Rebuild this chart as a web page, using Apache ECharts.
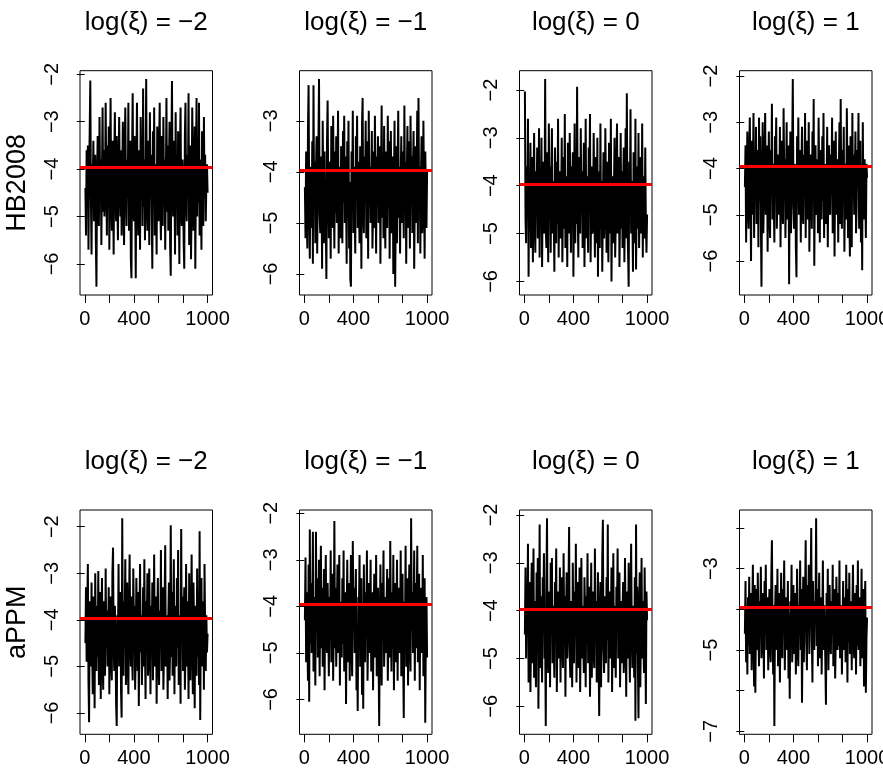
<!DOCTYPE html>
<html>
<head>
<meta charset="utf-8">
<script src="https://cdn.jsdelivr.net/npm/echarts@6/dist/echarts.min.js"></script>
<style>
html,body{margin:0;padding:0;background:#fff;}
#chart{width:883px;height:771px;}
</style>
</head>
<body>
<div id="chart"></div>
<script>
// ---------------- data ----------------
const ITER = 1000;          // MCMC iterations (x axis 1..1000)
const STEP = 5;             // thinning of the traced values
const trueValue = -3.96;    // red reference line
const colTitles = ["log(\u03BE) = \u22122", "log(\u03BE) = \u22121", "log(\u03BE) = 0", "log(\u03BE) = 1"];
const rowLabels = ["HB2008", "aPPM"];
const xTicks = [0, 200, 400, 600, 800, 1000];
const xLabels = [0, 400, 1000];
const yLabels = [
  [-6, -5, -4, -3, -2], [-6, -5, -4, -3], [-6, -5, -4, -3, -2], [-6, -5, -4, -3, -2],
  [-6, -5, -4, -3, -2], [-6, -5, -4, -3, -2], [-6, -5, -4, -3, -2], [-7, -5, -3]
];

const hb_m2 = [
-4.4,-5.4,-3.6,-4.8,-3.5,-5.7,-4.1,-3.2,-2.13,-4.6,-5.8,-3.9,-4.3,-3.4,-5.1,-4.0,-3.7,-5.5,-6.48,-4.2,
-3.3,-4.7,-5.2,-2.9,-4.5,-3.8,-5.6,-4.1,-2.7,-4.9,-3.6,-5.0,-4.4,-2.6,-4.2,-5.4,-3.5,-4.8,-3.1,-5.7,
-4.0,-2.5,-4.6,-5.3,-3.4,-4.1,-5.8,-3.7,-2.8,-4.5,-5.1,-3.3,-4.7,-5.5,-3.9,-2.9,-4.3,-5.0,-3.6,-5.4,
-4.2,-3.0,-4.9,-5.6,-3.5,-2.7,-4.4,-5.2,-3.8,-4.6,-2.6,-5.3,-4.0,-3.4,-5.9,-6.3,-3.7,-2.4,-4.8,-5.1,
-3.3,-4.5,-6.3,-3.9,-2.6,-4.7,-5.4,-3.6,-4.2,-5.7,-2.9,-4.1,-3.5,-5.2,-2.3,-4.8,-3.8,-5.5,-4.3,-2.1,
-4.6,-5.3,-3.4,-4.0,-5.6,-2.8,-4.4,-3.7,-5.0,-6.1,-3.2,-4.7,-2.7,-5.4,-3.9,-4.5,-5.8,-3.1,-4.2,-5.1,
-3.6,-2.6,-4.8,-5.5,-3.3,-4.1,-5.2,-2.9,-4.6,-3.8,-5.7,-4.3,-2.5,-4.9,-3.5,-5.3,-4.0,-3.0,-5.6,-6.25,
-3.7,-2.14,-4.5,-5.0,-3.4,-4.2,-5.8,-2.8,-4.7,-3.9,-5.4,-3.2,-4.4,-6.0,-3.6,-2.7,-4.9,-5.2,-3.8,-4.1,
-5.5,-6.1,-3.3,-2.6,-4.6,-5.1,-3.7,-4.3,-2.4,-5.6,-4.0,-3.5,-5.9,-4.8,-2.7,-3.9,-5.3,-4.5,-3.1,-6.1,
-4.2,-2.5,-5.0,-3.6,-4.7,-2.6,-5.4,-3.8,-4.4,-5.7,-3.2,-4.1,-5.2,-2.9,-4.6,-3.7,-5.1,-4.3,-3.9,-4.5
];
const hb_m1 = [
-4.3,-5.3,-3.6,-4.9,-5.5,-3.2,-2.3,-4.6,-5.7,-3.9,-4.2,-5.1,-3.4,-5.8,-2.3,-4.7,-3.8,-5.4,-4.0,-3.3,
-5.6,-4.4,-3.5,-2.18,-4.8,-5.2,-3.7,-4.1,-5.9,-3.0,-4.5,-5.4,-3.6,-4.9,-5.0,-6.1,-3.4,-2.6,-4.3,-5.3,
-3.8,-4.6,-5.7,-3.1,-4.0,-5.1,-2.9,-4.4,-5.5,-3.6,-4.8,-3.3,-5.0,-4.2,-2.8,-5.6,-3.9,-4.7,-5.3,-3.5,
-4.1,-5.4,-3.2,-4.6,-2.9,-5.0,-3.7,-4.4,-5.8,-3.4,-4.9,-3.0,-5.5,-4.2,-6.1,-6.25,-3.6,-4.5,-2.8,-5.2,
-3.9,-4.7,-5.6,-3.3,-4.3,-2.9,-5.1,-3.8,-4.6,-5.4,-3.5,-4.0,-5.9,-3.1,-2.55,-4.8,-5.2,-3.7,-4.4,-3.0,
-5.3,-4.1,-3.4,-5.7,-2.8,-4.6,-3.9,-5.0,-4.3,-3.2,-5.5,-4.8,-3.6,-5.1,-2.9,-4.2,-5.6,-3.7,-4.5,-3.3,
-5.0,-4.4,-3.5,-5.8,-4.0,-2.7,-4.9,-3.8,-5.3,-3.1,-4.6,-5.5,-3.6,-4.2,-5.1,-2.9,-4.7,-3.4,-5.7,-4.1,
-3.2,-5.2,-4.5,-3.7,-6.0,-4.3,-3.0,-6.25,-4.8,-3.5,-5.4,-4.0,-2.8,-4.9,-3.9,-5.6,-4.2,-3.3,-5.0,-4.6,
-3.6,-5.3,-2.7,-4.4,-3.8,-5.8,-4.1,-3.1,-5.1,-4.7,-3.4,-5.5,-2.9,-4.3,-3.7,-5.2,-4.0,-3.2,-5.9,-4.5,
-3.5,-5.0,-4.2,-2.8,-5.4,-2.55,-4.6,-3.9,-5.6,-4.1,-3.3,-5.2,-4.8,-3.0,-4.4,-5.7,-3.6,-4.3,-5.1,-4.0
];
const hb_0 = [
-2.03,-4.7,-5.2,-3.6,-4.4,-2.6,-5.9,-3.9,-4.9,-3.1,-5.3,-4.2,-3.4,-5.6,-4.0,-2.9,-4.8,-5.4,-3.7,-4.5,
-3.2,-5.1,-4.3,-2.8,-5.5,-3.8,-4.6,-3.0,-5.7,-4.1,-3.5,-5.0,-4.4,-1.77,-4.9,-5.3,-3.3,-4.7,-5.6,-2.7,
-4.2,-3.6,-5.4,-4.0,-2.8,-5.0,-3.9,-4.6,-5.8,-3.2,-4.3,-5.2,-3.5,-4.8,-2.6,-5.5,-4.1,-3.7,-5.1,-4.4,
-3.0,-5.6,-4.5,-3.4,-4.9,-2.5,-5.3,-3.8,-4.2,-5.7,-3.1,-4.7,-5.0,-2.9,-4.0,-5.4,-3.6,-4.6,-3.3,-5.9,
-4.3,-2.7,-5.2,-3.9,-4.8,-1.93,-4.5,-5.5,-3.4,-4.1,-5.0,-2.8,-4.6,-3.7,-5.3,-4.2,-3.1,-5.7,-4.4,-2.6,
-5.1,-3.8,-4.7,-5.4,-3.2,-4.0,-2.5,-5.6,-4.3,-3.6,-5.0,-4.8,-2.9,-4.1,-5.5,-3.4,-4.6,-5.2,-3.0,-5.9,
-4.2,-3.7,-5.3,-2.7,-4.9,-3.9,-5.8,-4.4,-3.3,-5.1,-4.6,-2.8,-4.0,-5.4,-3.5,-4.7,-5.6,-3.1,-4.3,-5.0,
-2.6,-6.0,-4.5,-3.8,-5.2,-4.1,-3.0,-5.5,-4.8,-3.6,-2.7,-5.0,-4.2,-3.4,-5.7,-4.6,-2.9,-4.9,-3.7,-5.3,
-4.0,-3.2,-5.6,-4.4,-2.8,-5.1,-2.07,-4.7,-5.4,-6.11,-3.5,-4.3,-2.4,-5.0,-3.9,-4.6,-5.8,-3.3,-4.1,-5.2,
-2.6,-5.75,-4.5,-3.6,-4.9,-2.9,-5.3,-4.2,-3.4,-5.0,-4.7,-2.7,-5.5,-3.8,-4.4,-5.1,-3.2,-4.8,-5.4,-4.6
];
const hb_p1 = [
-4.4,-3.5,-5.6,-4.1,-3.2,-4.8,-5.3,-3.7,-2.9,-4.5,-6.0,-3.4,-5.0,-4.2,-2.8,-5.5,-3.9,-4.6,-3.1,-5.2,
-4.0,-3.6,-5.7,-2.9,-4.7,-3.3,-5.1,-6.555,-4.3,-3.0,-5.4,-4.6,-3.8,-2.8,-5.0,-4.1,-3.5,-5.8,-4.4,-3.2,
-4.9,-5.5,-3.6,-4.2,-2.6,-5.1,-3.9,-4.7,-5.6,-3.3,-4.0,-2.9,-5.3,-4.5,-3.7,-5.0,-4.8,-3.1,-5.7,-4.3,
-3.4,-4.9,-5.2,-2.7,-4.1,-3.8,-5.5,-4.4,-3.0,-5.1,-4.6,-3.5,-6.5,-4.2,-3.2,-5.4,-4.8,-3.6,-2.065,-4.5,
-5.3,-3.9,-4.0,-5.7,-6.35,-3.3,-4.7,-2.9,-5.0,-4.3,-3.6,-5.6,-4.1,-3.1,-4.9,-5.2,-3.7,-4.4,-2.8,-5.5,
-4.2,-3.4,-5.1,-4.8,-3.0,-5.8,-4.5,-3.7,-4.0,-5.3,-3.2,-4.6,-2.5,-6.1,-4.3,-3.5,-5.0,-4.9,-3.8,-5.4,
-2.9,-4.1,-5.6,-3.6,-4.4,-5.1,-3.3,-4.7,-2.8,-5.5,-4.0,-3.9,-5.2,-4.6,-3.1,-5.7,-4.2,-3.5,-4.9,-5.0,
-3.7,-4.3,-2.9,-5.4,-4.8,-3.4,-5.9,-4.1,-3.2,-5.0,-4.5,-3.8,-5.6,-4.0,-3.0,-5.2,-2.5,-4.7,-5.3,-3.6,
-4.4,-3.1,-5.8,-4.6,-3.9,-5.1,-2.7,-4.2,-5.5,-3.5,-4.9,-5.9,-3.3,-4.0,-5.7,-2.8,-4.6,-3.7,-5.0,-4.3,
-3.2,-5.4,-4.8,-3.6,-4.1,-2.8,-5.3,-4.5,-3.4,-5.6,-4.0,-6.2,-3.0,-4.7,-5.1,-3.8,-4.4,-5.5,-3.9,-4.2
];
const ap_m2 = [
-4.5,-3.3,-4.9,-3.8,-2.8,-5.3,-6.2,-3.6,-4.2,-5.0,-3.2,-4.7,-5.6,-3.5,-4.0,-5.9,-3.0,-4.4,-5.1,-3.7,
-4.8,-2.95,-5.4,-4.1,-3.4,-5.7,-4.3,-3.1,-4.9,-5.5,-3.6,-4.0,-5.2,-2.9,-4.6,-3.8,-5.0,-4.4,-3.3,-5.6,
-4.2,-3.5,-4.8,-5.3,-3.0,-2.45,-4.5,-5.1,-3.7,-4.3,-5.8,-6.28,-3.9,-4.6,-2.8,-5.0,-4.1,-3.4,-5.5,-6.1,
-1.82,-4.7,-5.2,-3.6,-4.0,-2.7,-5.4,-4.4,-3.2,-4.9,-5.6,-3.8,-2.6,-4.3,-5.0,-3.5,-4.8,-5.3,-2.9,-4.1,
-3.7,-5.5,-4.6,-3.1,-4.2,-5.1,-3.4,-5.85,-4.0,-2.8,-4.7,-3.9,-5.4,-4.4,-3.3,-5.0,-2.7,-4.5,-5.7,-3.6,
-4.1,-3.0,-5.2,-4.8,-2.9,-4.3,-5.6,-3.7,-4.6,-3.2,-5.3,-4.0,-2.6,-5.0,-4.4,-3.5,-5.8,-4.2,-3.1,-4.9,
-5.4,-3.8,-4.5,-2.5,-5.1,-4.1,-3.3,-5.5,-4.7,-3.6,-2.4,-5.0,-4.3,-3.9,-5.7,-4.0,-3.2,-5.3,-4.6,-1.97,
-4.8,-3.4,-5.2,-4.1,-2.7,-5.6,-3.7,-4.4,-5.0,-3.1,-4.6,-2.5,-5.4,-3.9,-4.2,-5.8,-2.05,-4.5,-3.5,-5.1,
-4.0,-3.3,-5.5,-4.7,-2.8,-5.0,-3.6,-4.3,-5.7,-3.0,-4.9,-5.3,-3.8,-2.6,-4.5,-5.6,-3.2,-4.1,-5.9,-3.7,
-4.4,-5.2,-2.9,-4.8,-3.5,-5.4,-2.1,-6.15,-4.0,-3.1,-5.0,-4.6,-3.6,-5.5,-2.8,-4.2,-5.1,-3.9,-4.7,-4.3
];
const ap_m1 = [
-4.3,-2.95,-5.2,-3.7,-4.6,-5.6,-3.1,-6.05,-2.35,-4.8,-3.5,-5.0,-4.1,-2.4,-5.4,-3.8,-4.5,-5.7,-2.4,-4.2,
-3.4,-5.1,-4.7,-3.0,-5.5,-4.0,-2.7,-4.9,-3.6,-5.3,-4.4,-3.2,-5.8,-4.1,-2.9,-4.6,-5.0,-3.5,-4.3,-5.5,
-3.8,-4.7,-2.8,-5.2,-4.0,-3.3,-5.6,-4.5,-2.17,-4.9,-3.6,-5.3,-4.2,-3.1,-5.0,-4.6,-2.9,-5.7,-3.9,-4.4,
-5.1,-3.4,-4.8,-2.8,-5.4,-4.1,-3.7,-6.1,-4.3,-3.0,-5.2,-4.6,-3.5,-5.6,-4.0,-2.9,-4.9,-5.5,-2.6,-4.2,
-3.6,-5.0,-4.4,-3.2,-5.8,-4.7,-6.25,-3.8,-4.1,-2.9,-5.3,-4.5,-3.4,-5.9,-4.0,-6.2,-3.1,-4.8,-5.2,-3.7,
-4.3,-2.8,-5.6,-4.6,-3.5,-5.0,-4.2,-3.0,-5.4,-4.9,-3.7,-5.8,-4.1,-3.3,-5.1,-4.5,-2.9,-5.5,-4.0,-3.6,
-5.2,-6.57,-4.4,-3.1,-4.8,-5.7,-3.5,-4.2,-2.8,-5.3,-4.6,-3.8,-5.0,-4.0,-3.2,-5.6,-4.7,-3.4,-5.1,-2.6,
-4.3,-5.4,-3.7,-4.9,-2.9,-5.8,-4.1,-3.5,-5.2,-4.5,-3.0,-5.6,-4.0,-3.6,-5.0,-4.7,-2.8,-5.5,-4.2,-3.3,
-5.1,-6.4,-3.9,-4.6,-2.7,-5.3,-4.3,-3.4,-5.7,-4.0,-3.1,-4.8,-5.4,-2.11,-4.5,-3.7,-5.0,-4.2,-2.8,-5.6,
-3.5,-4.9,-4.1,-2.7,-5.2,-4.4,-3.3,-5.8,-4.0,-3.6,-5.0,-4.7,-2.9,-5.5,-4.2,-3.4,-6.5,-4.6,-3.8,-5.1
];
const ap_0 = [
-4.5,-3.1,-5.0,-3.6,-4.2,-2.6,-5.5,-4.0,-3.4,-5.7,-4.6,-3.0,-5.1,-4.3,-2.7,-5.4,-3.8,-4.8,-5.6,-3.2,
-4.1,-2.9,-6.05,-4.4,-2.2,-5.2,-3.7,-4.7,-5.5,-3.3,-4.0,-2.8,-5.0,-4.6,-6.41,-3.5,-2.07,-4.9,-5.3,-3.6,
-4.2,-5.6,-3.0,-4.5,-2.9,-5.1,-3.9,-4.7,-5.4,-3.4,-4.1,-2.7,-5.7,-4.3,-3.6,-5.0,-4.8,-3.1,-5.5,-4.0,
-3.3,-4.6,-5.2,-2.8,-4.4,-3.7,-5.8,-4.1,-3.2,-5.0,-4.5,-3.5,-2.25,-4.9,-5.4,-3.8,-4.2,-5.6,-3.0,-4.7,
-5.1,-3.6,-4.3,-2.6,-5.5,-4.0,-3.4,-5.2,-4.8,-3.1,-5.7,-4.4,-2.9,-5.0,-3.9,-4.6,-5.3,-3.3,-4.1,-5.6,
-3.7,-4.5,-2.8,-5.1,-4.2,-3.5,-5.8,-4.7,-3.0,-5.4,-4.0,-3.6,-4.9,-5.2,-2.7,-4.3,-3.8,-5.5,-4.6,-3.2,
-5.0,-6.2,-4.1,-3.4,-5.6,-4.4,-2.9,-2.1,-4.8,-5.3,-3.7,-4.0,-5.1,-3.3,-4.6,-2.2,-5.5,-4.2,-3.6,-5.0,
-4.5,-3.1,-5.7,-4.3,-2.8,-5.2,-3.9,-4.7,-5.4,-3.5,-4.1,-2.7,-5.0,-4.6,-3.2,-5.6,-4.4,-3.8,-5.1,-4.0,
-3.4,-5.3,-4.8,-2.9,-4.2,-5.8,-3.6,-4.5,-5.0,-3.0,-4.7,-5.5,-3.7,-2.6,-4.3,-5.2,-3.9,-4.6,-5.4,-3.3,
-6.3,-2.2,-4.9,-3.5,-5.1,-6.25,-4.0,-3.2,-5.6,-4.4,-2.9,-5.0,-3.8,-4.7,-5.3,-3.1,-4.5,-5.95,-3.6,-4.2
];
const ap_p1 = [
-4.6,-3.3,-5.3,-4.0,-5.6,-3.7,-4.9,-3.2,-5.1,-4.3,-3.6,-5.5,-4.1,-2.9,-4.7,-5.9,-3.4,-6.05,-4.4,-3.5,
-5.0,-3.1,-4.5,-5.4,-3.8,-4.2,-2.95,-5.2,-4.8,-3.6,-4.0,-5.7,-3.3,-4.6,-2.9,-5.0,-4.3,-3.7,-5.5,-4.1,
-3.5,-4.9,-5.3,-3.2,-2.3,-4.4,-5.6,-3.9,-6.87,-4.2,-3.4,-5.0,-4.7,-3.0,-5.4,-4.1,-3.6,-5.8,-4.5,-3.1,
-4.8,-5.2,-3.5,-4.0,-2.8,-5.5,-4.3,-3.7,-5.0,-4.6,-3.3,-5.7,-4.1,-6.2,-3.8,-4.4,-2.9,-5.3,-4.7,-3.4,
-5.1,-4.0,-3.6,-5.6,-4.5,-3.0,-4.9,-5.4,-3.9,-4.2,-2.8,-5.0,-3.5,-6.3,-4.6,-3.2,-5.3,-4.1,-3.7,-2.3,
-4.8,-5.5,-3.4,-4.3,-2.9,-5.1,-4.0,-3.6,-2.0,-4.7,-5.8,-3.3,-4.5,-5.0,-3.8,-4.2,-1.76,-4.9,-3.5,-5.4,
-4.1,-3.1,-5.2,-4.6,-3.7,-5.6,-4.3,-2.8,-5.0,-3.9,-4.4,-5.3,-6.35,-3.6,-4.8,-3.0,-5.5,-4.2,-3.4,-4.9,
-5.1,-3.8,-4.5,-2.9,-5.4,-4.0,-3.5,-5.7,-4.7,-3.2,-4.3,-5.0,-3.6,-4.9,-2.8,-5.2,-4.1,-3.9,-5.6,-4.4,
-3.3,-5.0,-4.6,-3.7,-5.3,-2.9,-4.2,-5.8,-3.5,-4.8,-3.1,-5.1,-4.4,-3.8,-5.5,-4.0,-2.9,-4.7,-5.2,-3.6,
-4.3,-5.6,-3.4,-4.9,-2.8,-5.0,-4.1,-3.7,-5.4,-4.6,-3.0,-5.2,-4.4,-3.5,-5.9,-4.0,-3.3,-6.05,-4.7,-4.2
];
const panels = [hb_m2, hb_m1, hb_0, hb_p1, ap_m2, ap_m1, ap_0, ap_p1];

// ---------------- layout ----------------
const gridLefts = [80, 299.5, 519.5, 739.5];
const gridWidth = 132.5;
const gridTops = [70.7, 510];
const gridHeight = 224.3;
const FONT = "'Liberation Sans', Arial, Helvetica, sans-serif";
const minusFmt = v => String(v).replace('-', '\u2212');

const grids = [], xAxes = [], yAxes = [], series = [], graphics = [];
const xPad = 0.04 * (ITER - 1);

panels.forEach((vals, p) => {
  const r = Math.floor(p / 4), c = p % 4;
  grids.push({ left: gridLefts[c], top: gridTops[r], width: gridWidth, height: gridHeight,
    containLabel: false, outerBoundsMode: 'none',
    show: true, borderColor: '#000', borderWidth: 1, backgroundColor: 'transparent' });
  const mn = Math.min(...vals), mx = Math.max(...vals);
  const pad = 0.04 * (mx - mn);
  const lo = mn - pad, hi = mx + pad;
  const yt = [];
  for (let v = Math.ceil(lo); v <= Math.floor(hi); v++) yt.push(v);
  xAxes.push({ type: 'value', gridIndex: p, min: 1 - xPad, max: ITER + xPad,
    axisLine: { show: false }, splitLine: { show: false },
    axisTick: { show: true, inside: false, length: 8, lineStyle: { color: '#000', width: 1 }, customValues: xTicks },
    axisLabel: { show: true, customValues: xLabels, color: '#000', fontSize: 20, fontFamily: FONT, margin: 14,
      formatter: v => String(v) }
  });
  yAxes.push({ type: 'value', gridIndex: p, min: lo, max: hi,
    axisLine: { show: false }, splitLine: { show: false },
    axisTick: { show: true, inside: false, length: 8, lineStyle: { color: '#000', width: 1 }, customValues: yt },
    axisLabel: { show: true, customValues: yLabels[p], rotate: 90, color: '#000', fontSize: 20, fontFamily: FONT,
      margin: 18, formatter: minusFmt }
  });
  series.push({ type: 'line', xAxisIndex: p, yAxisIndex: p, showSymbol: false, symbol: 'none',
    data: vals.map((v, i) => [(i + 1) * STEP, v]),
    lineStyle: { color: '#000', width: 2, join: 'bevel' }, silent: true, animation: false,
    markLine: { silent: true, symbol: 'none', label: { show: false }, animation: false,
      lineStyle: { color: '#ff0000', width: 3, type: 'solid' }, data: [{ yAxis: trueValue }] }
  });
  graphics.push({ type: 'text', x: gridLefts[c] + gridWidth / 2, y: gridTops[r] - 48,
    style: { text: colTitles[c], fontSize: 26, fontFamily: FONT, fill: '#000', align: 'center', verticalAlign: 'middle' } });
});
rowLabels.forEach((t, r) => {
  graphics.push({ type: 'text', x: 18, y: gridTops[r] + gridHeight / 2, rotation: Math.PI / 2,
    style: { text: t, fontSize: 27, fontFamily: FONT, fill: '#000', align: 'center', verticalAlign: 'middle' } });
});

const chart = echarts.init(document.getElementById('chart'), null, { renderer: 'canvas' });
chart.setOption({
  backgroundColor: '#fff',
  animation: false,
  grid: grids, xAxis: xAxes, yAxis: yAxes, series: series, graphic: graphics
});
</script>
</body>
</html>
